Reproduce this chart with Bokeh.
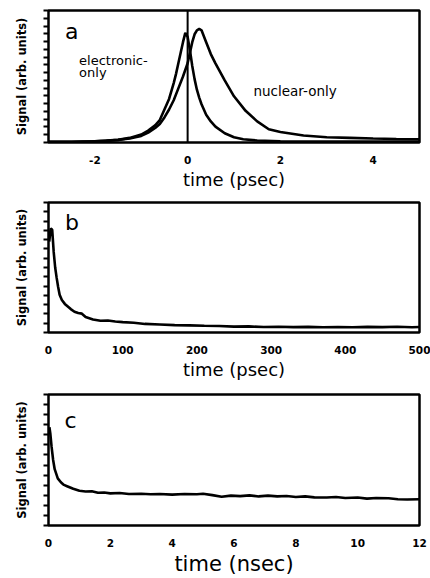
from bokeh.plotting import figure
from bokeh.models import Range1d, FixedTicker, Span, CustomLabelingPolicy
from bokeh.layouts import column
from bokeh.core.properties import value
from bokeh.embed import file_html
from bokeh.resources import INLINE

# ---------------- data ----------------
# panel a: electronic-only and nuclear-only signals vs time (psec)
t_elec = [-3.0, -2.5, -2.0, -1.75, -1.5, -1.25, -1.0, -0.85, -0.7, -0.6, -0.5, -0.4,
          -0.3, -0.25, -0.2, -0.15, -0.1, -0.05, 0.0, 0.05, 0.1, 0.15, 0.2, 0.25,
          0.3, 0.4, 0.5, 0.6, 0.8, 1.0, 1.2, 1.5, 2.0, 3.0, 4.0, 5.0]
s_elec = [0.005, 0.006, 0.01, 0.012, 0.02, 0.035, 0.06, 0.09, 0.13, 0.17, 0.25, 0.33,
          0.45, 0.52, 0.6, 0.68, 0.76, 0.83, 0.8, 0.7, 0.58, 0.48, 0.4, 0.34,
          0.29, 0.21, 0.16, 0.12, 0.07, 0.04, 0.025, 0.015, 0.01, 0.008, 0.008, 0.008]

t_nuc = [-3.0, -2.5, -2.0, -1.5, -1.25, -1.0, -0.85, -0.7, -0.6, -0.5, -0.4, -0.3,
         -0.2, -0.1, 0.0, 0.05, 0.1, 0.15, 0.2, 0.25, 0.3, 0.4, 0.5, 0.6,
         0.8, 1.0, 1.25, 1.5, 1.75, 2.0, 2.5, 3.0, 3.5, 4.0, 4.5, 5.0]
s_nuc = [0.005, 0.006, 0.01, 0.02, 0.03, 0.05, 0.075, 0.11, 0.14, 0.19, 0.25, 0.32,
         0.41, 0.5, 0.6, 0.68, 0.76, 0.82, 0.85, 0.86, 0.85, 0.76, 0.67, 0.6,
         0.47, 0.35, 0.24, 0.16, 0.1, 0.08, 0.053, 0.04, 0.035, 0.03, 0.027, 0.025]

# panel b: signal vs time (psec)
t_b = [1, 3, 5, 7, 9, 11, 13, 15, 18, 22, 26, 30, 35, 40, 45, 50, 55, 60, 70, 80,
       90, 100, 115, 130, 150, 170, 190, 210, 230, 250, 270, 290, 310, 330, 350,
       370, 390, 410, 430, 450, 470, 490, 500]
s_b = [0.7, 0.8, 0.79, 0.62, 0.5, 0.42, 0.35, 0.29, 0.25, 0.22, 0.2, 0.18, 0.16,
       0.15, 0.145, 0.12, 0.11, 0.1, 0.09, 0.092, 0.085, 0.08, 0.075, 0.066, 0.062,
       0.057, 0.055, 0.052, 0.05, 0.045, 0.047, 0.042, 0.044, 0.041, 0.043, 0.04,
       0.042, 0.04, 0.043, 0.041, 0.044, 0.04, 0.042]

# panel c: signal vs time (nsec)
t_c = [0.03, 0.06, 0.1, 0.15, 0.2, 0.3, 0.4, 0.5, 0.6, 0.7, 0.8, 1.0, 1.2, 1.4, 1.6,
       1.8, 2.0, 2.3, 2.6, 3.0, 3.3, 3.6, 4.0, 4.4, 4.8, 5.0, 5.3, 5.6, 5.9, 6.2,
       6.5, 6.8, 7.1, 7.4, 7.7, 8.0, 8.3, 8.6, 9.0, 9.3, 9.6, 10.0, 10.3, 10.6,
       11.0, 11.3, 11.6, 12.0]
s_c = [0.75, 0.7, 0.6, 0.5, 0.43, 0.36, 0.33, 0.31, 0.3, 0.29, 0.28, 0.265, 0.26,
       0.262, 0.25, 0.252, 0.245, 0.248, 0.24, 0.242, 0.238, 0.24, 0.236, 0.24,
       0.238, 0.242, 0.232, 0.22, 0.228, 0.224, 0.23, 0.222, 0.228, 0.222, 0.225,
       0.218, 0.222, 0.215, 0.214, 0.218, 0.21, 0.214, 0.205, 0.21, 0.208, 0.2,
       0.198, 0.2]

ticks_a = [-2, 0, 2, 4]
ticks_b = [0, 100, 200, 300, 400, 500]
ticks_c = [0, 2, 4, 6, 8, 10, 12]

FONT = "DejaVu Sans"


def make_fig(xr, xticks, xlabel, height, n_yticks, top, bottom, title_size):
    p = figure(width=430, height=height, output_backend="svg", toolbar_location=None,
               x_range=Range1d(*xr), y_range=Range1d(0, 1),
               min_border_left=48, min_border_right=11, min_border_top=top,
               min_border_bottom=bottom)
    p.background_fill_color = "white"
    p.border_fill_color = "white"
    p.outline_line_color = "black"
    p.outline_line_width = 2.5
    p.grid.visible = False

    xa = p.xaxis[0]
    xa.ticker = FixedTicker(ticks=xticks)
    xa.major_label_overrides = {t: str(t) for t in xticks}
    xa.axis_line_color = None
    xa.major_tick_out = 0
    xa.major_tick_in = 0
    xa.minor_tick_line_color = None
    xa.major_label_standoff = 13
    xa.major_label_text_font = FONT
    xa.major_label_text_font_style = "bold"
    xa.major_label_text_font_size = "10.5px"
    xa.major_label_text_color = "black"
    xa.axis_label = xlabel
    xa.axis_label_text_font = FONT
    xa.axis_label_text_font_style = "normal"
    xa.axis_label_text_font_size = title_size
    xa.axis_label_text_color = "black"
    xa.axis_label_standoff = 2

    ya = p.yaxis[0]
    ya.ticker = FixedTicker(ticks=[i / n_yticks for i in range(n_yticks + 1)])
    ya.axis_line_color = None
    ya.major_tick_out = 5
    ya.major_tick_in = 0
    ya.major_tick_line_width = 2
    ya.major_tick_line_color = "black"
    ya.minor_tick_line_color = None
    ya.major_label_text_font_size = "0px"
    ya.major_label_policy = CustomLabelingPolicy(code="return []")
    ya.major_label_standoff = 0
    ya.axis_label = "Signal (arb. units)"
    ya.axis_label_text_font = FONT
    ya.axis_label_text_font_style = "bold"
    ya.axis_label_text_font_size = "11.5px"
    ya.axis_label_text_color = "black"
    ya.axis_label_standoff = 15
    return p


# ---------------- panel a ----------------
pa = make_fig((-3, 5), ticks_a, "time (psec)", 200, 17, 10, 58, "18px")
pa.add_layout(Span(location=0, dimension="height", line_color="black", line_width=2))
pa.line(t_elec, s_elec, line_color="black", line_width=2.6)
pa.line(t_nuc, s_nuc, line_color="black", line_width=2.6)
pa.text(x=[-2.5], y=[0.84], text=["a"], text_font=value(FONT), text_font_size="22px",
        text_align="center", text_baseline="middle", text_color="black")
pa.text(x=[-2.34, -2.34], y=[0.62, 0.53], text=["electronic-", "only"],
        text_font=value(FONT), text_font_size="13px", text_align="left",
        text_baseline="middle", text_color="black")
pa.text(x=[1.42], y=[0.39], text=["nuclear-only"], text_font=value(FONT),
        text_font_size="13.5px", text_align="left", text_baseline="middle",
        text_color="black")

# ---------------- panel b ----------------
pb = make_fig((0, 500), ticks_b, "time (psec)", 192, 14, 2, 60, "18px")
pb.line(t_b, s_b, line_color="black", line_width=2.6)
pb.text(x=[31.5], y=[0.85], text=["b"], text_font=value(FONT), text_font_size="22px",
        text_align="center", text_baseline="middle", text_color="black")

# ---------------- panel c ----------------
pc = make_fig((0, 12), ticks_c, "time (nsec)", 186, 13, 2, 52, "21px")
pc.line(t_c, s_c, line_color="black", line_width=2.6)
pc.text(x=[0.71], y=[0.8], text=["c"], text_font=value(FONT), text_font_size="22px",
        text_align="center", text_baseline="middle", text_color="black")

layout = column(pa, pb, pc, spacing=0)

open("out.html", "w").write(file_html(layout, INLINE))
